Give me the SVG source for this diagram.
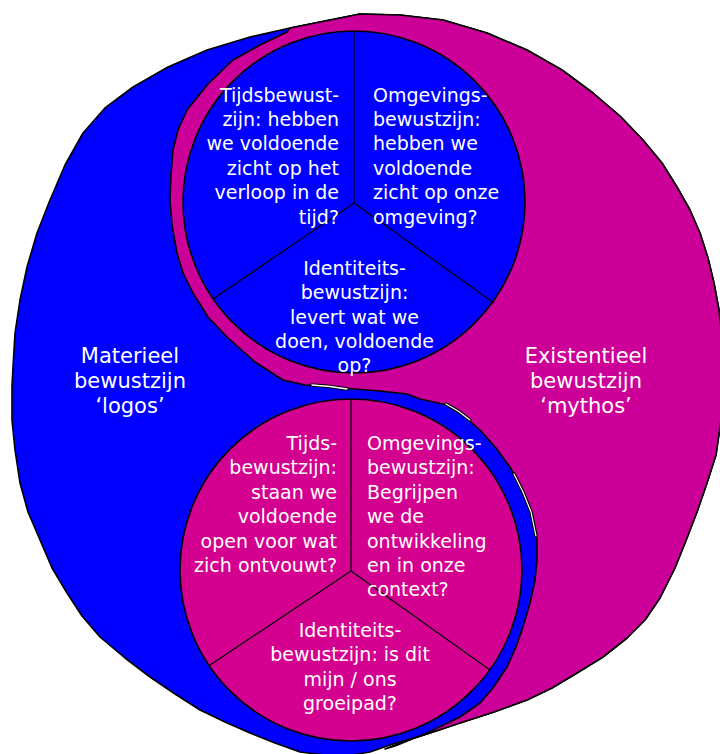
<svg xmlns="http://www.w3.org/2000/svg" width="720" height="754" viewBox="0 0 720 754">
<style>
.edge{stroke:#000;stroke-width:1.6;stroke-linejoin:round}
.blue{fill:#0000FF}
.mag{fill:#CC0099}
.mag2{fill:#D4008F}
.div{stroke:#000;stroke-width:1.2;fill:none}
text{font-family:"DejaVu Sans","Liberation Sans",sans-serif;font-size:19px;fill:#FFFFFF}
.lbl{font-size:21px}
.r{text-anchor:end}
.c{text-anchor:middle}
</style>
<rect width="720" height="754" fill="#FFFFFF"/>
<g id="outer">
<path class="edge blue" d="M360,14 L400,15 L443,20 L487,33 L527,50 L562,70 L593,93 L620,116 L643,140 L662,163 L677,187 L690,210 L700,233 L708,258 L714,283 L719,310 L722,340 L723,380 L721,420 L716,455 L707,483 L697,512 L687,538 L675,568 L660,598 L645,620 L627,638 L603,657 L577,673 L552,688 L527,700 L494,712 L460,723 L427,734 L393,744 L370,752 L340,757 L300,752 L275,743 L250,733 L225,722 L200,710 L175,694 L150,677 L125,658 L100,637 L82,616 L67,593 L52,568 L40,540 L28,512 L20,483 L15,450 L12,420 L12,386 L13,367 L15,333 L20,300 L27,267 L37,233 L50,200 L65,165 L83,133 L105,108 L133,87 L168,67 L207,50 L250,37 L290,28 L320,22 Z"/>
</g>
<g id="mythos-region">
<path class="edge mag" d="M290,28 L320,22 L360,14 L400,15 L443,20 L487,33 L527,50 L562,70 L593,93 L620,116 L643,140 L662,163 L677,187 L690,210 L700,233 L708,258 L714,283 L719,310 L722,340 L723,380 L721,420 L716,455 L707,483 L697,512 L687,538 L675,568 L660,598 L645,620 L627,638 L603,657 L577,673 L552,688 L527,700 L494,712 L460,723 L427,734 L400,743 L385,749 L395,746 L427,733 L460,717 L480,703 L493,688 L507,667 L516,647 L523,627 L530,603 L535,580 L537,560 L537,540 L534,522 L530,507 L521,487 L510,467 L496,448 L480,430 L464,416 L447,405 L420,399 L407,394 L380,391 L355,389 L333,387 L305,385 L283,380 L255,362 L227,337 L208,317 L193,293 L183,273 L177,253 L172,225 L170,200 L171,175 L173,150 L178,130 L187,110 L208,84 L233,60 L260,45 L287,32 Z"/>
<g fill="none" stroke-linecap="round">
<path d="M312,385 L330,386.5 L347,389" stroke="#000" stroke-width="3.6"/>
<path d="M312,385 L330,386.5 L347,389" stroke="#fff" stroke-width="1.4"/>
<path d="M446,404 L458,411 L470,420" stroke="#000" stroke-width="3.4"/>
<path d="M446,404 L458,411 L470,420" stroke="#fff" stroke-width="1.2"/>
<path d="M514,474 L523,492 L531,512 L536,536" stroke="#000" stroke-width="3.4"/>
<path d="M514,474 L523,492 L531,512 L536,536" stroke="#fff" stroke-width="1.2"/>
</g>
</g>
<g id="top-circle">
<circle class="edge blue" cx="354" cy="202" r="171"/>
<g class="div">
<line x1="354" y1="203" x2="354" y2="31"/>
<line x1="354" y1="203" x2="213" y2="299"/>
<line x1="354" y1="203" x2="494" y2="303"/>
</g>
<g id="top-tijd">
<text class="r" x="339" y="101.5">Tijdsbewust-</text>
<text class="r" x="339" y="125.9">zijn: hebben</text>
<text class="r" x="339" y="150.3">we voldoende</text>
<text class="r" x="339" y="174.7">zicht op het</text>
<text class="r" x="339" y="199.1">verloop in de</text>
<text class="r" x="339" y="223.5">tijd?</text>
</g>
<g id="top-omgeving">
<text x="373" y="101.5">Omgevings-</text>
<text x="373" y="125.9">bewustzijn:</text>
<text x="373" y="150.3">hebben we</text>
<text x="373" y="174.7">voldoende</text>
<text x="373" y="199.1">zicht op onze</text>
<text x="373" y="223.5">omgeving?</text>
</g>
<g id="top-identiteit">
<text class="c" x="354.5" y="275">Identiteits-</text>
<text class="c" x="354.5" y="299.3">bewustzijn:</text>
<text class="c" x="354.5" y="323.6">levert wat we</text>
<text class="c" x="354.5" y="347.9">doen, voldoende</text>
<text class="c" x="354.5" y="372.2">op?</text>
</g>
</g>
<g id="bottom-circle">
<circle class="edge mag2" cx="351" cy="570" r="171"/>
<g class="div">
<line x1="351" y1="571" x2="351" y2="399"/>
<line x1="351" y1="571" x2="210" y2="665"/>
<line x1="351" y1="571" x2="490" y2="670"/>
</g>
<g id="bottom-tijd">
<text class="r" x="337" y="450">Tijds-</text>
<text class="r" x="337" y="474.4">bewustzijn:</text>
<text class="r" x="337" y="498.8">staan we</text>
<text class="r" x="337" y="523.2">voldoende</text>
<text class="r" x="337" y="547.6">open voor wat</text>
<text class="r" x="337" y="572">zich ontvouwt?</text>
</g>
<g id="bottom-omgeving">
<text x="367" y="450">Omgevings-</text>
<text x="367" y="474.4">bewustzijn:</text>
<text x="367" y="498.8">Begrijpen</text>
<text x="367" y="523.2">we de</text>
<text x="367" y="547.6">ontwikkeling</text>
<text x="367" y="572">en in onze</text>
<text x="367" y="596.4">context?</text>
</g>
<g id="bottom-identiteit">
<text class="c" x="350" y="637">Identiteits-</text>
<text class="c" x="350" y="661.4">bewustzijn: is dit</text>
<text class="c" x="350" y="685.8">mijn / ons</text>
<text class="c" x="350" y="710.2">groeipad?</text>
</g>
</g>
<g id="label-logos">
<text class="lbl c" x="130" y="363">Materieel</text>
<text class="lbl c" x="130" y="388">bewustzijn</text>
<text class="lbl c" x="130" y="413">‘logos’</text>
</g>
<g id="label-mythos">
<text class="lbl c" x="586" y="363">Existentieel</text>
<text class="lbl c" x="586" y="388">bewustzijn</text>
<text class="lbl c" x="586" y="413">‘mythos’</text>
</g>
</svg>
